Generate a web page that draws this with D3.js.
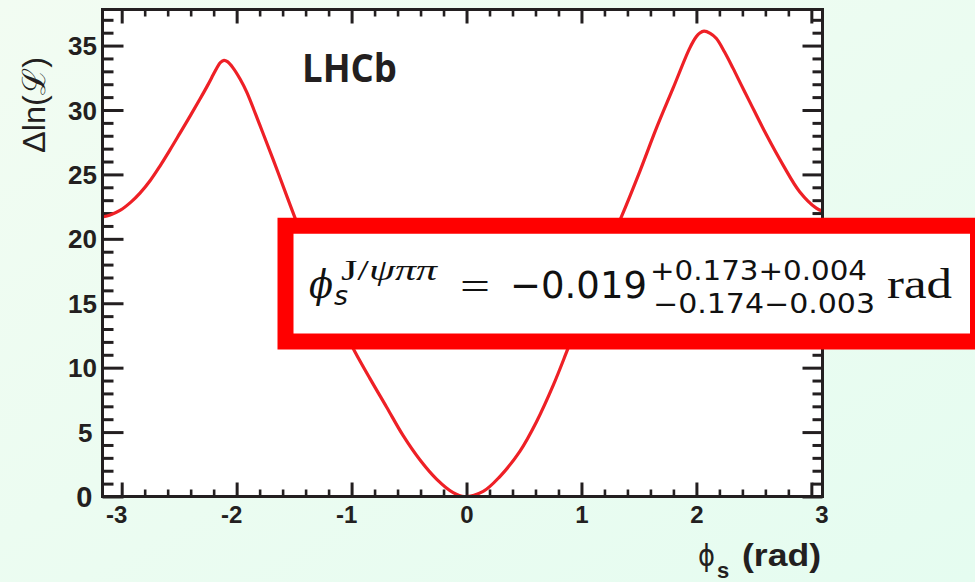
<!DOCTYPE html>
<html>
<head>
<meta charset="utf-8">
<script src="https://cdn.jsdelivr.net/npm/d3@7"></script>
<style>
  html, body { margin: 0; padding: 0; background: #ecfbef; }
  svg { display: block; }
</style>
</head>
<body>
<svg id="chart" width="975" height="582"></svg>
<script>
// Profile likelihood scan: phi_s (rad) versus Delta ln(L)
const phiS = [-3.167, -3.10, -3.015, -2.92, -2.841, -2.75, -2.667, -2.58, -2.493, -2.40,
  -2.319, -2.25, -2.203, -2.17, -2.14, -2.11, -2.08, -2.03, -1.97, -1.913,
  -1.797, -1.682, -1.565, -1.493, -1.40, -1.30, -1.20, -1.10, -0.971, -0.841,
  -0.696, -0.551, -0.406, -0.261, -0.116, -0.019, 0.145, 0.290, 0.464, 0.609,
  0.753, 0.870, 1.00, 1.10, 1.20, 1.30, 1.348, 1.507, 1.652, 1.797,
  1.942, 2.00, 2.03, 2.066, 2.12, 2.174, 2.245, 2.318, 2.39, 2.463,
  2.609, 2.753, 2.898, 3.043, 3.097];
const deltaLnL = [21.70, 21.85, 22.20, 22.85, 23.55, 24.55, 25.65, 26.90, 28.20, 29.60,
  30.85, 31.95, 32.75, 33.30, 33.70, 33.85, 33.75, 33.25, 32.40, 31.40,
  28.80, 26.15, 23.35, 21.65, 19.55, 17.45, 15.45, 13.50, 11.24, 9.17,
  6.95, 4.72, 2.85, 1.35, 0.30, 0.00, 0.40, 1.55, 3.50, 5.80,
  8.60, 11.20, 14.20, 16.50, 18.75, 20.75, 21.72, 25.22, 28.59, 31.69,
  34.80, 35.70, 35.98, 36.12, 35.95, 35.55, 34.50, 33.25, 31.95, 30.65,
  28.07, 25.74, 23.66, 22.38, 22.15];

const xMajorTicks = [-3, -2, -1, 0, 1, 2, 3];
const yMajorTicks = [0, 5, 10, 15, 20, 25, 30, 35];
const xDomain = [-3.167, 3.097];
const yDomain = [0, 37.8];

const xTitleMain = "(rad)";
const yTitle = "\u0394ln(\u2112)";
const experiment = "LHCb";

// Result quoted in the box
const resultSymbol = "\u03D5";
const resultSub = "s";
const resultChannel = ["J/", "\u03C8\u03C0\u03C0"];
const resultCentral = "\u22120.019";
const resultUpper = "+0.173+0.004";
const resultLower = "\u22120.174\u22120.003";
const resultUnit = "rad";

const svg = d3.select("#chart");
const W = 975, H = 582;
const plot = { left: 102.5, top: 9.5, right: 822.5, bottom: 496.5 };

// page background
const defs = svg.append("defs");
const grad = defs.append("linearGradient").attr("id", "bg")
  .attr("x1", "0").attr("y1", "0").attr("x2", "1").attr("y2", "1");
grad.append("stop").attr("offset", "0").attr("stop-color", "#f2fcf2");
grad.append("stop").attr("offset", "1").attr("stop-color", "#e5fcf0");
svg.append("rect").attr("width", W).attr("height", H).attr("fill", "url(#bg)");

defs.append("clipPath").attr("id", "plotClip").append("rect")
  .attr("x", plot.left).attr("y", plot.top)
  .attr("width", plot.right - plot.left).attr("height", plot.bottom - plot.top);

svg.append("rect")
  .attr("x", plot.left).attr("y", plot.top)
  .attr("width", plot.right - plot.left).attr("height", plot.bottom - plot.top)
  .attr("fill", "#ffffff");

const x = d3.scaleLinear().domain(xDomain).range([plot.left, plot.right]);
const y = d3.scaleLinear().domain(yDomain).range([plot.bottom, plot.top]);

const ink = "#231f20";
const labelFont = "'Liberation Sans', Arial, Helvetica, sans-serif";

// minor tick positions
const xMinor = d3.range(-32, 33, 2).map(v => v / 10)
  .filter(v => v >= xDomain[0] && v <= xDomain[1] && !xMajorTicks.includes(v));
const yMinor = d3.range(0, 38).filter(v => v <= yDomain[1] && v % 5 !== 0);

function styleAxis(g, width) {
  g.select(".domain").remove();
  g.selectAll(".tick line").attr("stroke", ink).attr("stroke-width", width);
}

// bottom axis (ticks point inward)
svg.append("g").attr("transform", `translate(0,${plot.bottom})`)
  .call(d3.axisBottom(x).tickValues(xMinor).tickSizeInner(-7).tickFormat(""))
  .call(g => styleAxis(g, 2.6));
const bottomAxis = svg.append("g").attr("transform", `translate(0,${plot.bottom})`)
  .call(d3.axisBottom(x).tickValues(xMajorTicks).tickSizeInner(-14).tickPadding(9.5)
    .tickFormat(d => d < 0 ? "-" + Math.abs(d) : String(d)))
  .call(g => styleAxis(g, 3));
bottomAxis.selectAll(".tick text")
  .attr("font-family", labelFont).attr("font-weight", "bold")
  .attr("font-size", 24).attr("fill", ink)
  .attr("dx", d => d < 0 ? -5.5 : (d === 3 ? 10 : 0));

// top axis
svg.append("g").attr("transform", `translate(0,${plot.top})`)
  .call(d3.axisTop(x).tickValues(xMinor).tickSizeInner(-7).tickFormat(""))
  .call(g => styleAxis(g, 2.6));
svg.append("g").attr("transform", `translate(0,${plot.top})`)
  .call(d3.axisTop(x).tickValues(xMajorTicks).tickSizeInner(-14).tickFormat(""))
  .call(g => styleAxis(g, 3));

// left axis
svg.append("g").attr("transform", `translate(${plot.left},0)`)
  .call(d3.axisLeft(y).tickValues(yMinor).tickSizeInner(-11).tickFormat(""))
  .call(g => styleAxis(g, 3));
const leftAxis = svg.append("g").attr("transform", `translate(${plot.left},0)`)
  .call(d3.axisLeft(y).tickValues(yMajorTicks).tickSizeInner(-21).tickPadding(5.5))
  .call(g => styleAxis(g, 3));
leftAxis.selectAll(".tick text")
  .attr("font-family", labelFont).attr("font-weight", "bold")
  .attr("font-size", d => d === 0 ? 29 : 26).attr("fill", ink)
  .attr("dx", d => d < 10 ? -4.5 : 0)
  .attr("dy", "0.35em");

// right axis
svg.append("g").attr("transform", `translate(${plot.right},0)`)
  .call(d3.axisRight(y).tickValues(yMinor).tickSizeInner(-10).tickFormat(""))
  .call(g => styleAxis(g, 3));
svg.append("g").attr("transform", `translate(${plot.right},0)`)
  .call(d3.axisRight(y).tickValues(yMajorTicks).tickSizeInner(-20).tickFormat(""))
  .call(g => styleAxis(g, 3));

// likelihood curve
const pts = phiS.map((p, i) => [p, deltaLnL[i]]);
svg.append("path")
  .datum(pts)
  .attr("clip-path", "url(#plotClip)")
  .attr("fill", "none")
  .attr("stroke", "#ee2026")
  .attr("stroke-width", 3.2)
  .attr("stroke-linejoin", "round")
  .attr("d", d3.line().x(d => x(d[0])).y(d => y(d[1])).curve(d3.curveCatmullRom.alpha(0.5)));

// frame
svg.append("rect")
  .attr("x", plot.left).attr("y", plot.top)
  .attr("width", plot.right - plot.left).attr("height", plot.bottom - plot.top)
  .attr("fill", "none").attr("stroke", ink).attr("stroke-width", 3);

// experiment label
svg.append("text")
  .attr("x", 302).attr("y", 82)
  .attr("font-family", "'Open Sans', 'Liberation Sans', sans-serif").attr("font-weight", "bold")
  .attr("font-size", 40).attr("fill", ink)
  .attr("textLength", 95).attr("lengthAdjust", "spacingAndGlyphs")
  .text(experiment);

// axis titles
svg.append("text")
  .attr("transform", "translate(45,105) rotate(-90)")
  .attr("text-anchor", "middle")
  .attr("font-family", labelFont).attr("font-size", 32).attr("fill", ink)
  .attr("textLength", 96).attr("lengthAdjust", "spacingAndGlyphs")
  .text(yTitle);

svg.append("text")
  .attr("x", 698).attr("y", 566)
  .attr("font-family", "'DejaVu Sans', sans-serif").attr("font-size", 31).attr("fill", ink)
  .attr("textLength", 17).attr("lengthAdjust", "spacingAndGlyphs")
  .text(resultSymbol);
svg.append("text")
  .attr("x", 717).attr("y", 578)
  .attr("font-family", labelFont).attr("font-weight", "bold")
  .attr("font-size", 22).attr("fill", ink)
  .text(resultSub);
svg.append("text")
  .attr("x", 742).attr("y", 566)
  .attr("font-family", labelFont).attr("font-weight", "bold")
  .attr("font-size", 32).attr("fill", ink)
  .attr("textLength", 79).attr("lengthAdjust", "spacingAndGlyphs")
  .text(xTitleMain);

// result box
const box = svg.append("g");
box.append("rect")
  .attr("x", 285.5).attr("y", 225.75)
  .attr("width", 692.5).attr("height", 115.75)
  .attr("fill", "#ffffff").attr("stroke", "#ff0000").attr("stroke-width", 16);

const serif = "'Liberation Serif', 'Times New Roman', serif";
const sans = "'DejaVu Sans', sans-serif";
function boxText(str, xx, yy, size, family, len, style) {
  return box.append("text")
    .attr("x", xx).attr("y", yy)
    .attr("font-family", family).attr("font-size", size)
    .attr("font-style", style || "normal")
    .attr("fill", "#111111")
    .attr("textLength", len).attr("lengthAdjust", "spacingAndGlyphs")
    .text(str);
}
boxText(resultSymbol, 309, 298, 40, "'DejaVu Serif', serif", 24, "italic");
boxText(resultSub, 334, 305, 27, sans, 14, "italic");
const chan = box.append("text")
  .attr("x", 341).attr("y", 280)
  .attr("font-family", serif).attr("font-size", 29).attr("fill", "#111111")
  .attr("textLength", 96).attr("lengthAdjust", "spacingAndGlyphs");
chan.append("tspan").text(resultChannel[0]);
chan.append("tspan").attr("font-style", "italic").text(resultChannel[1]);
boxText("=", 460, 300, 40, serif, 30);
boxText(resultCentral, 510, 298, 38, sans, 137);
boxText(resultUpper, 650, 280, 27, sans, 217);
boxText(resultLower, 653, 313, 27, sans, 222);
boxText(resultUnit, 887, 298, 42, serif, 65);
</script>
</body>
</html>
